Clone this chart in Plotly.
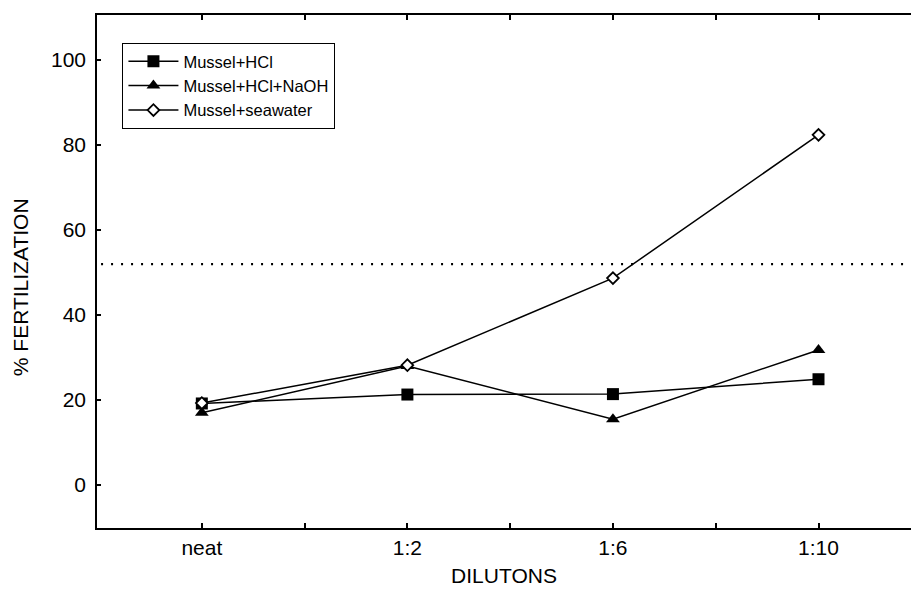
import plotly.graph_objects as go

# Dilution levels tested
categories = ["neat", "1:2", "1:6", "1:10"]

# Percent fertilization for each treatment
hcl = [19.2, 21.3, 21.4, 24.9]
hcl_naoh = [17.0, 28.0, 15.5, 31.8]
seawater = [19.3, 28.2, 48.7, 82.4]

# Reference level drawn as a dotted line
reference_level = 52.0

y_ticks = [0, 20, 40, 60, 80, 100]

x_pos = list(range(len(categories)))
# major ticks at each dilution, minor ticks halfway between
x_tickvals = [i * 0.5 for i in range(0, 2 * len(categories))]
x_ticktext = [categories[int(v)] if v == int(v) else "" for v in x_tickvals]

FONT = "Liberation Sans, Arial, Helvetica, sans-serif"
AXIS_FONT = 21

fig = go.Figure()

fig.add_trace(go.Scatter(
    x=x_pos, y=hcl, name="Mussel+HCl", mode="lines+markers",
    line=dict(color="black", width=1.5),
    marker=dict(symbol="square", size=12, color="black"),
))
fig.add_trace(go.Scatter(
    x=x_pos, y=hcl_naoh, name="Mussel+HCl+NaOH", mode="lines+markers",
    line=dict(color="black", width=1.5),
    marker=dict(symbol="triangle-up", size=12, color="black"),
))
fig.add_trace(go.Scatter(
    x=x_pos, y=seawater, name="Mussel+seawater", mode="lines+markers",
    line=dict(color="black", width=1.5),
    marker=dict(symbol="diamond", size=9, color="white",
                line=dict(color="black", width=1.8)),
))

fig.add_shape(
    type="line", xref="paper", yref="y",
    x0=0.005, x1=1, y0=reference_level, y1=reference_level,
    line=dict(color="black", width=2.2, dash="2px,8px"),
)

# y-axis title placed slightly below the plot centre
fig.add_annotation(
    text="% FERTILIZATION", textangle=-90,
    xref="paper", yref="paper", x=-0.093, y=0.47,
    xanchor="center", yanchor="middle", showarrow=False,
    font=dict(family=FONT, size=AXIS_FONT, color="black"),
)

fig.update_layout(
    width=911, height=590,
    margin=dict(l=97, r=0, t=15, b=62),
    paper_bgcolor="white", plot_bgcolor="white",
    font=dict(family=FONT, size=AXIS_FONT, color="black"),
    showlegend=True,
    legend=dict(
        x=0.031, y=0.946, xanchor="left", yanchor="top",
        bordercolor="black", borderwidth=1.2, bgcolor="white",
        font=dict(family=FONT, size=16.5, color="black"),
        itemwidth=50, tracegroupgap=0,
    ),
    xaxis=dict(
        range=[-0.51, 3.45],
        tickmode="array", tickvals=x_tickvals, ticktext=x_ticktext,
        ticks="inside", ticklen=5, tickwidth=1.5, tickcolor="black",
        showline=True, linecolor="black", linewidth=1.5,
        mirror="ticks", showgrid=False, zeroline=False,
        title=dict(text="DILUTONS", standoff=10,
                   font=dict(family=FONT, size=AXIS_FONT)),
        tickfont=dict(family=FONT, size=AXIS_FONT),
    ),
    yaxis=dict(
        range=[-10.1, 110.6],
        tickmode="array", tickvals=y_ticks,
        ticks="inside", ticklen=4, tickwidth=1.5, tickcolor="black",
        ticklabelstandoff=5,
        showline=True, linecolor="black", linewidth=1.5,
        showgrid=False, zeroline=False,
        tickfont=dict(family=FONT, size=AXIS_FONT),
    ),
)

fig.write_html("out.html")
